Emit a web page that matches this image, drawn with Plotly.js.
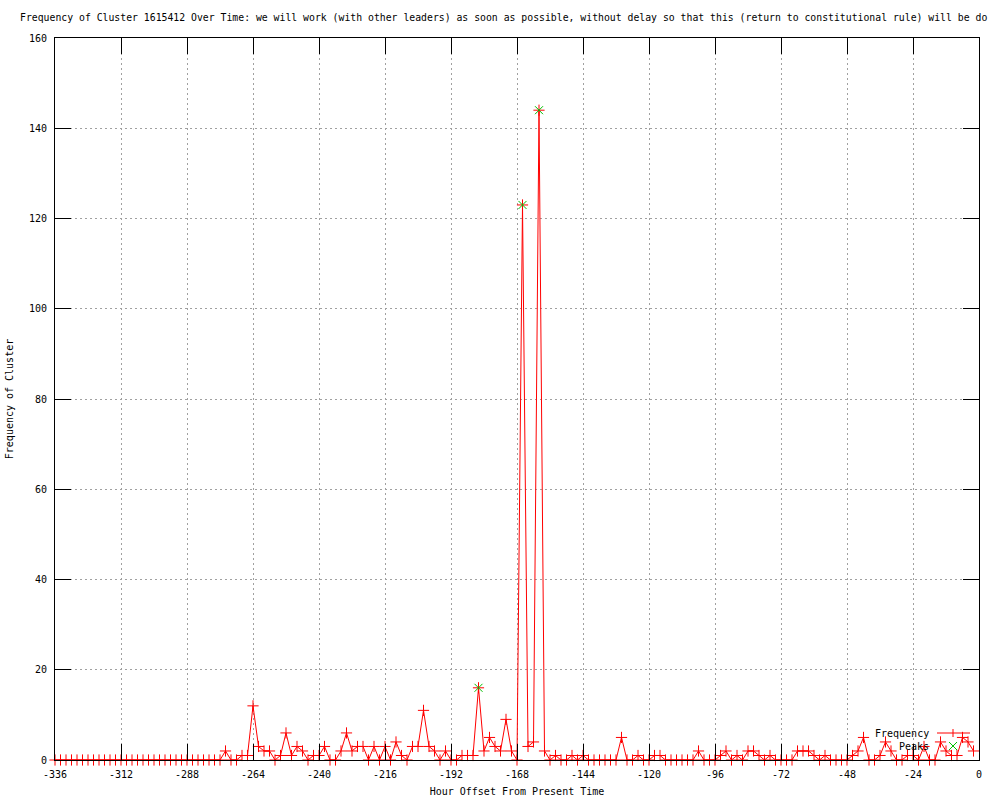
<!DOCTYPE html>
<html>
<head>
<meta charset="utf-8">
<script src="https://cdn.plot.ly/plotly-3.0.1.min.js"></script>
<style>html,body{margin:0;padding:0;background:#fff;}#chart{width:1000px;height:800px;}</style>
</head>
<body>
<div id="chart"></div>
<script>
// Hour offsets (x) for the frequency series
const hours = [
  -336,-334,-332,-330,-328,-326,-324,-322,-320,-318,
  -316,-314,-312,-310,-308,-306,-304,-302,-300,-298,
  -296,-294,-292,-290,-288,-286,-284,-282,-280,-278,
  -276,-274,-272,-270,-268,-266,-264,-262,-260,-258,
  -256,-254,-252,-250,-248,-246,-244,-242,-240,-238,
  -236,-234,-232,-230,-228,-226,-224,-222,-220,-218,
  -216,-214,-212,-210,-208,-206,-204,-202,-200,-198,
  -196,-194,-192,-190,-188,-186,-184,-182,-180,-178,
  -176,-174,-172,-170,-168,-166,-164,-162,-160,-158,
  -156,-154,-152,-150,-148,-146,-144,-142,-140,-138,
  -136,-134,-132,-130,-128,-126,-124,-122,-120,-118,
  -116,-114,-112,-110,-108,-106,-104,-102,-100,-98,
  -96,-94,-92,-90,-88,-86,-84,-82,-80,-78,
  -76,-74,-72,-70,-68,-66,-64,-62,-60,-58,
  -56,-54,-52,-50,-48,-46,-44,-42,-40,-38,
  -36,-34,-32,-30,-28,-26,-24,-22,-20,-18,
  -16,-14,-12,-10,-8,-6,-4,-2
];
// Frequency of cluster at each hour offset
const frequency = [
  0,0,0,0,0,0,0,0,0,0,
  0,0,0,0,0,0,0,0,0,0,
  0,0,0,0,0,0,0,0,0,0,
  0,2,0,0,1,1,12,3,2,2,
  0,1,6,1,3,2,0,1,1,3,
  0,0,2,6,2,3,3,0,3,0,
  3,0,4,1,0,3,3,11,3,2,
  0,2,0,0,1,1,1,16,2,5,
  3,2,9,2,0,123,3,4,144,2,
  0,1,0,0,1,0,1,0,0,0,
  0,0,0,5,0,0,1,0,0,1,
  1,0,0,0,0,0,0,2,0,0,
  0,1,2,0,1,0,2,2,1,0,
  1,0,0,0,0,2,2,2,1,0,
  1,0,0,0,0,1,2,5,0,0,
  1,4,2,0,0,1,1,0,3,0,
  0,4,2,1,1,5,4,2
];
// Detected peaks
const peakHours = [-182, -166, -160];
const peakValues = [16, 123, 144];

const xTickVals = [-336,-312,-288,-264,-240,-216,-192,-168,-144,-120,-96,-72,-48,-24,0];
const xTickText = ['-336','-312','-288','-264','-240','-216','-192','-168','-144','-120','-96','-72','-48','-24','0'];

const seriesNames = ['Frequency', 'Peaks'];
// title as visible in the reference (it runs off the right edge there)
const titleText = 'Frequency of Cluster 1615412 Over Time: we will work (with other leaders) as soon as possible, without delay so that this (return to constitutional rule) will be do';

const FONT = 'DejaVu Sans Mono, Liberation Mono, monospace';
const RED = '#ff0000';
const GREEN = '#00c000';

const traces = [
  {
    x: hours, y: frequency, name: seriesNames[0],
    type: 'scatter', mode: 'lines+markers', cliponaxis: false,
    line: {color: RED, width: 1},
    marker: {symbol: 'cross-thin-open', size: 8, color: RED, line: {color: RED, width: 1}}
  },
  {
    x: peakHours, y: peakValues, name: seriesNames[1],
    type: 'scatter', mode: 'markers', cliponaxis: false,
    marker: {symbol: 'x-thin-open', size: 8, color: GREEN, line: {color: GREEN, width: 1}}
  }
];

// legend geometry (paper coords)
const L = 55, W = 924, B = 760, H = 722;
const px = v => (v - L) / W;
const py = v => (B - v) / H;

const layout = {
  width: 1000, height: 800,
  margin: {l: 55, r: 21, t: 38, b: 40, pad: 0},
  paper_bgcolor: '#ffffff', plot_bgcolor: '#ffffff',
  showlegend: false,
  font: {family: FONT, size: 10, color: '#000'},
  title: {
    text: titleText, font: {family: FONT, size: 9.8, color: '#000'},
    xref: 'container', x: 20/1000, xanchor: 'left',
    yref: 'container', y: 1 - 18/800, yanchor: 'middle'
  },
  xaxis: {
    range: [-336, 0], tickmode: 'array', tickvals: xTickVals, ticktext: xTickText,
    ticks: 'inside', ticklen: 16, tickwidth: 1, tickcolor: '#000',
    showline: true, linecolor: '#000', linewidth: 1, mirror: 'ticks',
    showgrid: true, gridcolor: '#a0a0a0', griddash: '2px,3px', gridwidth: 1,
    zeroline: false, ticklabelstandoff: 5,
    tickfont: {family: FONT, size: 10, color: '#000'},
    title: {text: 'Hour Offset From Present Time', font: {family: FONT, size: 10, color: '#000'}, standoff: 8}
  },
  yaxis: {
    range: [0, 160], tick0: 0, dtick: 20,
    ticks: 'inside', ticklen: 16, tickwidth: 1, tickcolor: '#000',
    showline: true, linecolor: '#000', linewidth: 1, mirror: 'ticks',
    showgrid: true, gridcolor: '#a0a0a0', griddash: '2px,3px', gridwidth: 1,
    zeroline: false, ticklabelstandoff: 5,
    tickfont: {family: FONT, size: 10, color: '#000'},
    title: {text: 'Frequency of Cluster', font: {family: FONT, size: 10, color: '#000'}, standoff: 13}
  },
  annotations: [
    {xref: 'paper', yref: 'paper', x: px(931), y: py(733), xanchor: 'right', yanchor: 'middle',
     text: seriesNames[0], showarrow: false, font: {family: FONT, size: 10, color: '#000'}},
    {xref: 'paper', yref: 'paper', x: px(931), y: py(746), xanchor: 'right', yanchor: 'middle',
     text: seriesNames[1], showarrow: false, font: {family: FONT, size: 10, color: '#000'}}
  ],
  shapes: [
    {type: 'line', xref: 'paper', yref: 'paper', x0: px(937), x1: px(970), y0: py(733), y1: py(733), line: {color: RED, width: 1}},
    {type: 'line', xref: 'paper', yref: 'paper', x0: px(953), x1: px(953), y0: py(729), y1: py(737), line: {color: RED, width: 1}},
    {type: 'line', xref: 'paper', yref: 'paper', x0: px(949), x1: px(957), y0: py(742), y1: py(750), line: {color: GREEN, width: 1}},
    {type: 'line', xref: 'paper', yref: 'paper', x0: px(949), x1: px(957), y0: py(750), y1: py(742), line: {color: GREEN, width: 1}}
  ]
};

Plotly.newPlot('chart', traces, layout, {displayModeBar: false, staticPlot: true});
</script>
</body>
</html>
